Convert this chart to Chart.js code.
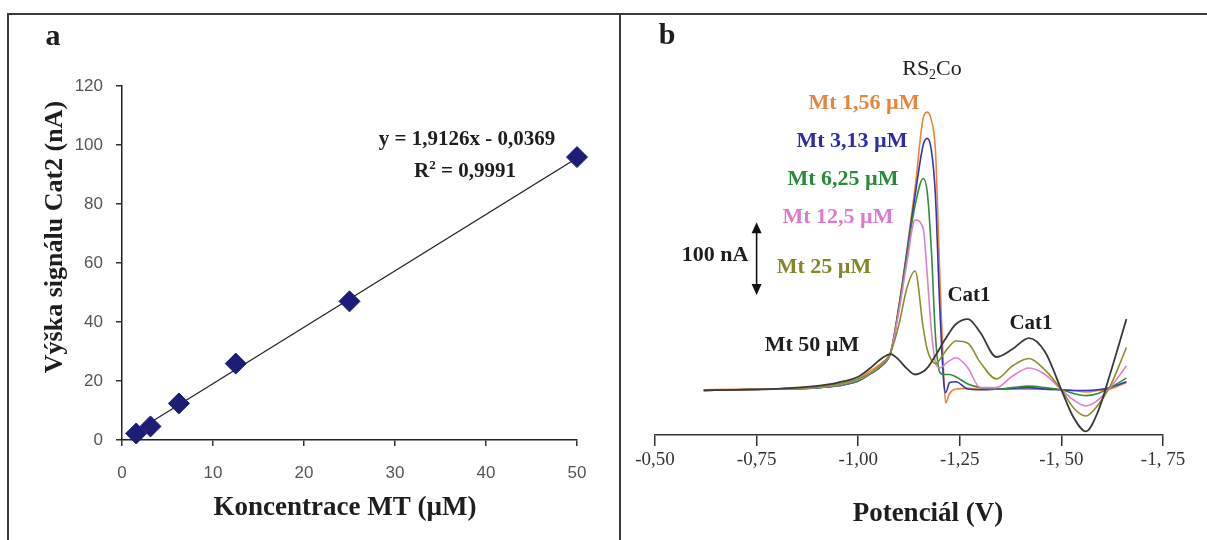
<!DOCTYPE html>
<html>
<head>
<meta charset="utf-8">
<script src="https://cdn.jsdelivr.net/npm/chart.js@4.4.1/dist/chart.umd.min.js"></script>
<style>
  body { margin: 0; background: #fff; }
  #wrap { position: relative; width: 1207px; height: 540px; overflow: hidden; background: #fff; }
  .frame { position: absolute; background: #3a3a3a; }
  .panel { position: absolute; top: 0; height: 540px; }
</style>
</head>
<body>
<div id="wrap">
  <div class="frame" style="left:7px;top:13px;width:1200px;height:2px"></div>
  <div class="frame" style="left:7px;top:13px;width:2px;height:527px"></div>
  <div class="frame" style="left:619px;top:13px;width:2px;height:527px"></div>
  <div class="panel" style="left:0;width:620px"><canvas id="chartA"></canvas></div>
  <div class="panel" style="left:620px;width:587px"><canvas id="chartB"></canvas></div>
</div>
<script>
// --- a: calibration of Cat2 signal ---
const concentrations = [1.56, 3.13, 6.25, 12.5, 25, 50];
const cat2Heights = [2.2, 4.6, 12.4, 25.9, 47.0, 95.9];
const fitSlope = 1.9126;
const fitIntercept = -0.0369;
const fitR2 = '0,9991';

// --- b: voltammograms, current in nA vs potential in V ---
const potentials = [-0.62, -0.70, -0.80, -0.90, -0.95, -1.00, -1.03, -1.06, -1.08, -1.10,
  -1.12, -1.14, -1.16, -1.17, -1.18, -1.19, -1.20, -1.21, -1.215, -1.225,
  -1.24, -1.27, -1.30, -1.34, -1.38, -1.42, -1.46, -1.50, -1.53, -1.56,
  -1.59, -1.62, -1.66];
const mt156 = [0, 0.7, 1.4, 3, 7, 15, 26, 38, 52, 116, 192, 277, 373, 381, 370, 329, 171, 25, -18, -5,
  1, 2, 1, 1, 1, 1, 1, 0, -1, -3, -1, 1, 10];
const mt313 = [-0.7, 0, 1.4, 2.7, 5.5, 12, 22, 34, 51, 112, 189, 267, 336, 345, 329, 267, 123, 14, -4, 10,
  11, 1, 0, 1, 2, 3, 1, 0, -1, -1, 0, 3, 11];
const mt625 = [-0.7, 0, 1.4, 2.7, 5.5, 12, 22, 34, 51, 112, 185, 253, 290, 271, 192, 75, 25, 21, 21, 21,
  18, 8, 3, 1, 3, 5, 3, 0, -5, -8, -5, 3, 16];
const mt125 = [-0.7, 0, 1.4, 3.4, 7, 14, 23, 36, 52, 107, 175, 233, 221, 156, 82, 38, 30, 33, 36, 40,
  44, 30, 3, 3, 19, 30, 21, 0, -14, -22, -14, 3, 33];
const mt25 = [-0.7, 0, 1.4, 4, 8, 15, 23, 36, 52, 89, 140, 163, 85, 55, 41, 36, 41, 49, 53, 60,
  67, 64, 38, 15, 33, 43, 27, 0, -25, -36, -21, 5, 58];
const mt50 = [-0.7, 0, 1.4, 5.5, 10, 18, 30, 44, 49, 41, 29, 21, 25, 30, 38, 47, 56, 66, 70, 79,
  90, 97, 79, 45, 56, 71, 52, 0, -38, -57, -30, 22, 97];
const seriesNames = ['Mt 50 µM', 'Mt 25 µM', 'Mt 12,5 µM', 'Mt 6,25 µM', 'Mt 3,13 µM', 'Mt 1,56 µM'];
const potentialTicks = [-0.5, -0.75, -1.0, -1.25, -1.5, -1.75];
const potentialTickLabels = ['-0,50', '-0,75', '-1,00', '-1,25', '-1, 50', '-1, 75'];
const scaleBarFrom = 230;   // nA
const scaleBarSpan = 100;   // nA
const scaleBarPotential = -0.75;

const SERIF = '"Liberation Serif", "Times New Roman", serif';
const SANS = '"Liberation Sans", Arial, sans-serif';

const commaNum = v => String(v).replace('.', ',');

// draws free text (with sub/superscripts) and the scale bar arrow
const panelText = {
  id: 'panelText',
  afterDraw(chart, args, opts) {
    const ctx = chart.ctx;
    const fontFor = (item, p) => (item.bold ? 'bold ' : '') +
      ((p.sub || p.sup) ? Math.round(item.size * 0.62) : item.size) + 'px ' + SERIF;
    (opts.items || []).forEach(item => {
      const parts = item.parts || [{ text: item.text }];
      ctx.save();
      ctx.translate(item.x, item.y);
      if (item.rotate) ctx.rotate(item.rotate);
      ctx.fillStyle = item.color || '#1e1e1e';
      ctx.textBaseline = 'middle';
      ctx.textAlign = 'left';
      let total = 0;
      parts.forEach(p => { ctx.font = fontFor(item, p); total += ctx.measureText(p.text).width; });
      let x = -total / 2;
      parts.forEach(p => {
        ctx.font = fontFor(item, p);
        const dy = p.sub ? item.size * 0.3 : (p.sup ? -item.size * 0.32 : 0);
        ctx.fillText(p.text, x, dy);
        x += ctx.measureText(p.text).width;
      });
      ctx.restore();
    });

    if (opts.arrow) {
      const xs = chart.scales.x, ys = chart.scales.y;
      const ax = xs.getPixelForValue(opts.arrow.potential);
      const top = ys.getPixelForValue(opts.arrow.from);
      const bot = ys.getPixelForValue(opts.arrow.from - opts.arrow.span);
      ctx.save();
      ctx.strokeStyle = '#111';
      ctx.fillStyle = '#111';
      ctx.lineWidth = 1.6;
      ctx.beginPath();
      ctx.moveTo(ax, top + 8);
      ctx.lineTo(ax, bot - 8);
      ctx.stroke();
      ctx.beginPath();
      ctx.moveTo(ax, top); ctx.lineTo(ax - 5, top + 11); ctx.lineTo(ax + 5, top + 11); ctx.closePath();
      ctx.moveTo(ax, bot); ctx.lineTo(ax - 5, bot - 11); ctx.lineTo(ax + 5, bot - 11); ctx.closePath();
      ctx.fill();
      ctx.restore();
    }
  }
};

// ---------- chart a ----------
const fitX = [concentrations[0], concentrations[concentrations.length - 1]];

new Chart(document.getElementById('chartA'), {
  type: 'scatter',
  data: {
    datasets: [{
      data: concentrations.map((c, i) => ({ x: c, y: cat2Heights[i] })),
      pointStyle: 'rectRot',
      pointRadius: 10.5,
      pointBackgroundColor: '#1d1d78',
      pointBorderColor: '#1d1d78',
      pointBorderWidth: 1,
      clip: false
    }, {
      type: 'line',
      data: fitX.map(c => ({ x: c, y: fitSlope * c + fitIntercept })),
      borderColor: '#222',
      borderWidth: 1.2,
      pointRadius: 0
    }]
  },
  options: {
    responsive: true,
    maintainAspectRatio: false,
    animation: false,
    layout: { padding: { left: 0, right: 43, top: 86, bottom: 0 } },
    plugins: {
      legend: { display: false },
      tooltip: { enabled: false },
      panelText: {
        items: [
          { text: 'a', x: 53, y: 37, size: 30, bold: true },
          { text: 'y = ' + commaNum(fitSlope) + 'x - ' + commaNum(-fitIntercept), x: 467, y: 140, size: 21, bold: true },
          { parts: [{ text: 'R' }, { text: '2', sup: true }, { text: ' = ' + fitR2 }], x: 465, y: 172, size: 21, bold: true },
          { text: 'Koncentrace MT (µM)', x: 345, y: 508, size: 27, bold: true },
          { text: 'Výška signálu Cat2 (nA)', x: 55, y: 237, size: 26, bold: true, rotate: -Math.PI / 2 }
        ]
      }
    },
    scales: {
      x: {
        type: 'linear', min: 0, max: 50,
        afterFit: s => { s.height = 100; },
        ticks: { stepSize: 10, padding: 17, color: '#555', font: { family: SANS, size: 17 } },
        grid: { drawOnChartArea: false, tickLength: 6, color: '#333', lineWidth: 1.5 },
        border: { color: '#222', width: 1.5 }
      },
      y: {
        min: 0, max: 120,
        afterFit: s => { s.width = 122; },
        ticks: { stepSize: 20, padding: 13, color: '#555', font: { family: SANS, size: 17 } },
        grid: { drawOnChartArea: false, tickLength: 6, color: '#333', lineWidth: 1.5 },
        border: { color: '#222', width: 1.5 }
      }
    }
  },
  plugins: [panelText]
});

// ---------- chart b ----------
const curves = [mt50, mt25, mt125, mt625, mt313, mt156];
const curveColors = ['#3a3a3a', '#8d8d30', '#e07fcf', '#2f8c3c', '#3434b6', '#ee8434'];
const labelColors = ['#1e1e1e', '#85852a', '#de7acd', '#2a8a3a', '#2c2ca8', '#e8843c'];

new Chart(document.getElementById('chartB'), {
  type: 'line',
  data: {
    datasets: curves.map((vals, k) => ({
      label: seriesNames[k],
      data: potentials.map((p, i) => ({ x: p, y: vals[i] })),
      borderColor: curveColors[k],
      borderWidth: k === 0 ? 1.8 : 1.6,
      pointRadius: 0,
      cubicInterpolationMode: 'monotone'
    }))
  },
  options: {
    responsive: true,
    maintainAspectRatio: false,
    animation: false,
    layout: { padding: { left: 35, right: 44, top: 40, bottom: 0 } },
    plugins: {
      legend: { display: false },
      tooltip: { enabled: false },
      panelText: {
        arrow: { potential: scaleBarPotential, from: scaleBarFrom, span: scaleBarSpan },
        items: [
          { text: 'b', x: 47, y: 36, size: 30, bold: true },
          { parts: [{ text: 'RS' }, { text: '2', sub: true }, { text: 'Co' }], x: 312, y: 69, size: 22 },
          { text: seriesNames[5], x: 244, y: 103, size: 22, bold: true, color: labelColors[5] },
          { text: seriesNames[4], x: 232, y: 141, size: 22, bold: true, color: labelColors[4] },
          { text: seriesNames[3], x: 223, y: 179, size: 22, bold: true, color: labelColors[3] },
          { text: seriesNames[2], x: 218, y: 217, size: 22, bold: true, color: labelColors[2] },
          { text: seriesNames[1], x: 204, y: 267, size: 22, bold: true, color: labelColors[1] },
          { text: seriesNames[0], x: 192, y: 345, size: 22, bold: true, color: labelColors[0] },
          { text: scaleBarSpan + ' nA', x: 95, y: 255, size: 22, bold: true },
          { text: 'Cat1', x: 349, y: 296, size: 21, bold: true },
          { text: 'Cat1', x: 411, y: 324, size: 21, bold: true },
          { text: 'Potenciál (V)', x: 308, y: 514, size: 27, bold: true }
        ]
      }
    },
    scales: {
      x: {
        type: 'linear', reverse: true, min: -1.75, max: -0.5,
        afterBuildTicks: s => { s.ticks = potentialTicks.map(v => ({ value: v })); },
        afterFit: s => { s.height = 105; },
        ticks: {
          autoSkip: false, maxRotation: 0, padding: 3, color: '#333',
          font: { family: SERIF, size: 19 },
          callback: v => potentialTickLabels[potentialTicks.indexOf(v)]
        },
        grid: { drawOnChartArea: false, tickLength: 11, color: '#333', lineWidth: 1.5 },
        border: { color: '#333', width: 1.5 }
      },
      y: { display: false, min: -62, max: 480 }
    }
  },
  plugins: [panelText]
});
</script>
</body>
</html>
